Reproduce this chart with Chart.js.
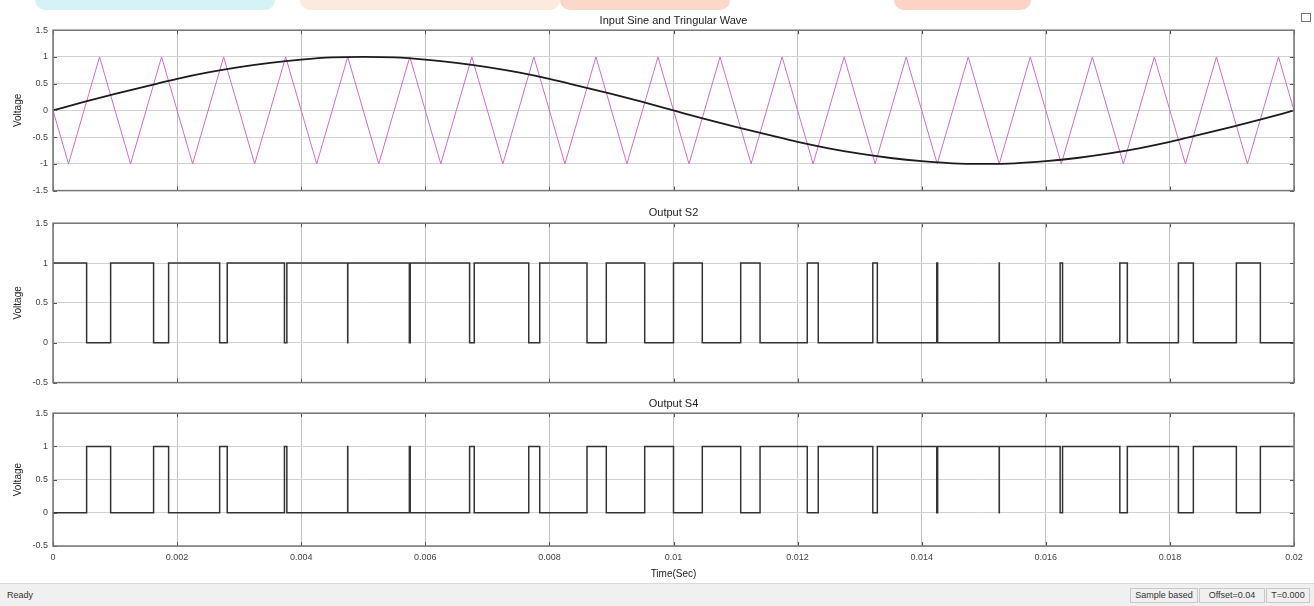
<!DOCTYPE html>
<html>
<head>
<meta charset="utf-8">
<script src="https://cdn.jsdelivr.net/npm/chart.js@4.4.0/dist/chart.umd.min.js"></script>
<style>
  body { margin: 0; width: 1314px; height: 606px; background: #fff; overflow: hidden; position: relative; font-family: "Liberation Sans", Arial, sans-serif; }
  .plot { position: absolute; left: 0; width: 1314px; }
  .deco { position: absolute; top: 0; height: 10px; border-radius: 0 0 10px 10px; }
  #status { position: absolute; left: 0; top: 583px; width: 1314px; height: 23px; background: #f0f0f0; border-top: 1px solid #dadada; font-size: 9px; color: #333; }
  #status span { position: absolute; top: 6px; }
  #status .cell { top: 4px; height: 13px; line-height: 13px; border: 1px solid #c9c9c9; text-align: center; }
  #icon { position: absolute; left: 1301px; top: 13px; width: 8px; height: 7px; border: 1px solid #777; background: linear-gradient(90deg, #fff 45%, #777 45%, #777 55%, #fff 55%); }
</style>
</head>
<body>
<div class="deco" style="left:35px;width:240px;background:#d5f3f7"></div>
<div class="deco" style="left:300px;width:260px;background:#fdeadf"></div>
<div class="deco" style="left:560px;width:170px;background:#fbd8c8"></div>
<div class="deco" style="left:894px;width:137px;background:#fcd3c5"></div>
<div id="icon"></div>

<div class="plot" style="top:0;height:201px"><canvas id="grafico-1"></canvas></div>
<div class="plot" style="top:197px;height:196px"><canvas id="grafico-2"></canvas></div>
<div class="plot" style="top:389px;height:194px"><canvas id="grafico-3"></canvas></div>

<div id="status">
  <span style="left:7px">Ready</span>
  <span class="cell" style="left:1130px;width:66px">Sample based</span>
  <span class="cell" style="left:1199px;width:64px">Offset=0.04</span>
  <span class="cell" style="left:1266px;width:42px">T=0.000</span>
</div>

<script>
// sine reference (time in s, volts)
let sineTime = [0, 0.0005, 0.001, 0.0015, 0.002, 0.0025, 0.003, 0.0035, 0.004, 0.0045,
  0.005, 0.0055, 0.006, 0.0065, 0.007, 0.0075, 0.008, 0.0085, 0.009, 0.0095,
  0.01, 0.0105, 0.011, 0.0115, 0.012, 0.0125, 0.013, 0.0135, 0.014, 0.0145,
  0.015, 0.0155, 0.016, 0.0165, 0.017, 0.0175, 0.018, 0.0185, 0.019, 0.0195, 0.02];
let sineVolt = [0, 0.16, 0.31, 0.45, 0.59, 0.71, 0.81, 0.89, 0.95, 0.99,
  1.00, 0.99, 0.95, 0.89, 0.81, 0.71, 0.59, 0.45, 0.31, 0.16,
  0, -0.16, -0.31, -0.45, -0.59, -0.71, -0.81, -0.89, -0.95, -0.99,
  -1.00, -0.99, -0.95, -0.89, -0.81, -0.71, -0.59, -0.45, -0.31, -0.16, 0];

// triangular carrier corners
let triTime = [0, 0.00025, 0.00075, 0.00125, 0.00175, 0.00225, 0.00275, 0.00325, 0.00375, 0.00425,
  0.00475, 0.00525, 0.00575, 0.00625, 0.00675, 0.00725, 0.00775, 0.00825, 0.00875, 0.00925,
  0.00975, 0.01025, 0.01075, 0.01125, 0.01175, 0.01225, 0.01275, 0.01325, 0.01375, 0.01425,
  0.01475, 0.01525, 0.01575, 0.01625, 0.01675, 0.01725, 0.01775, 0.01825, 0.01875, 0.01925,
  0.01975, 0.02];
let triVolt = [0, -1, 1, -1, 1, -1, 1, -1, 1, -1,
  1, -1, 1, -1, 1, -1, 1, -1, 1, -1,
  1, -1, 1, -1, 1, -1, 1, -1, 1, -1,
  1, -1, 1, -1, 1, -1, 1, -1, 1, -1,
  1, 0];

// switching instants (s) and the level after each one
let switchTime = [0, 0.000542, 0.000929, 0.001621, 0.001863, 0.002686, 0.002808, 0.00373, 0.003769, 0.004749,
  0.004751, 0.005743, 0.005757, 0.006714, 0.006789, 0.007667, 0.007844, 0.008606, 0.008917, 0.009536,
  0.01, 0.010464, 0.011083, 0.011395, 0.012156, 0.012333, 0.013212, 0.013285, 0.014243, 0.014257,
  0.015249, 0.015251, 0.016231, 0.01627, 0.017193, 0.017314, 0.018137, 0.018378, 0.019071, 0.019458,
  0.02];
let s2Level = [1, 0, 1, 0, 1, 0, 1, 0, 1, 0,
  1, 0, 1, 0, 1, 0, 1, 0, 1, 0,
  1, 0, 1, 0, 1, 0, 1, 0, 1, 0,
  1, 0, 1, 0, 1, 0, 1, 0, 1, 0,
  0];
let s4Level = [0, 1, 0, 1, 0, 1, 0, 1, 0, 1,
  0, 1, 0, 1, 0, 1, 0, 1, 0, 1,
  0, 1, 0, 1, 0, 1, 0, 1, 0, 1,
  0, 1, 0, 1, 0, 1, 0, 1, 0, 1,
  1];

let xTickValues = [0, 0.002, 0.004, 0.006, 0.008, 0.01, 0.012, 0.014, 0.016, 0.018, 0.02];
let xTickLabels = ['0', '0.002', '0.004', '0.006', '0.008', '0.01', '0.012', '0.014', '0.016', '0.018', '0.02'];
let yTickValuesIn = [-1.5, -1, -0.5, 0, 0.5, 1, 1.5];
let yTickLabelsIn = ['-1.5', '-1', '-0.5', '0', '0.5', '1', '1.5'];
let yTickValuesOut = [-0.5, 0, 0.5, 1, 1.5];
let yTickLabelsOut = ['-0.5', '0', '0.5', '1', '1.5'];

const FONT = '"Liberation Sans", Arial, sans-serif';

function pares(xs, ys) {
  return xs.map((x, i) => ({x: x, y: ys[i]}));
}

// box around the plot + MATLAB style inner ticks
const moldura = {
  id: 'moldura',
  afterDraw(chart) {
    const ctx = chart.ctx, a = chart.chartArea, sx = chart.scales.x, sy = chart.scales.y;
    ctx.save();
    ctx.strokeStyle = '#555';
    ctx.lineWidth = 1;
    ctx.beginPath();
    sx.ticks.forEach(t => {
      const p = Math.round(sx.getPixelForValue(t.value)) + 0.5;
      ctx.moveTo(p, a.top); ctx.lineTo(p, a.top + 4);
      ctx.moveTo(p, a.bottom); ctx.lineTo(p, a.bottom - 4);
    });
    sy.ticks.forEach(t => {
      const p = Math.round(sy.getPixelForValue(t.value)) + 0.5;
      ctx.moveTo(a.left, p); ctx.lineTo(a.left + 4, p);
      ctx.moveTo(a.right, p); ctx.lineTo(a.right - 4, p);
    });
    ctx.stroke();
    ctx.strokeStyle = '#767676';
    ctx.lineWidth = 1.5;
    ctx.strokeRect(a.left, a.top, a.right - a.left, a.bottom - a.top);
    ctx.restore();
  }
};

function criarGrafico(id, opts) {
  const ctx = document.getElementById(id).getContext('2d');
  return new Chart(ctx, {
    type: 'line',
    data: { datasets: opts.datasets },
    options: {
      responsive: true,
      maintainAspectRatio: false,
      animation: false,
      layout: { padding: { left: 0, right: 20, top: opts.padTop, bottom: opts.padBottom } },
      elements: { point: { radius: 0 } },
      plugins: {
        legend: { display: false },
        tooltip: { enabled: false },
        title: {
          display: true, text: opts.titulo, fullSize: false, color: '#222',
          font: { family: FONT, size: 11, weight: 'normal' },
          padding: { top: 0, bottom: opts.titlePad }
        }
      },
      scales: {
        x: {
          type: 'linear', min: 0, max: 0.02,
          afterBuildTicks: s => { s.ticks = xTickValues.map(v => ({value: v})); },
          afterFit: s => { s.height = opts.xHeight; },
          grid: { color: '#c2c2c2', lineWidth: 1, drawTicks: false },
          border: { display: false },
          ticks: {
            display: opts.xLabels, padding: 6, color: '#444', maxRotation: 0,
            font: { family: FONT, size: 9 },
            callback: (v, i) => xTickLabels[i]
          },
          title: {
            display: opts.xLabels, text: 'Time(Sec)', color: '#222',
            font: { family: FONT, size: 10 }, padding: { top: 0, bottom: 3 }
          }
        },
        y: {
          min: opts.yTicks[0], max: opts.yTicks[opts.yTicks.length - 1],
          afterBuildTicks: s => { s.ticks = opts.yTicks.map(v => ({value: v})); },
          afterFit: s => { s.width = 53; },
          grid: { color: '#d2d2d2', lineWidth: 1, drawTicks: false },
          border: { display: false },
          ticks: {
            padding: 5, color: '#444',
            font: { family: FONT, size: 9 },
            callback: (v, i) => opts.yLabels[i]
          },
          title: {
            display: true, text: 'Voltage', color: '#222',
            font: { family: FONT, size: 10 }, padding: { top: 12, bottom: 0 }
          }
        }
      }
    },
    plugins: [moldura]
  });
}

criarGrafico('grafico-1', {
  titulo: 'Input Sine and Tringular Wave',
  padTop: 14, titlePad: 3, padBottom: 7, xHeight: 0, xLabels: false,
  yTicks: yTickValuesIn, yLabels: yTickLabelsIn,
  datasets: [
    { label: 'Sine', data: pares(sineTime, sineVolt), borderColor: '#1c1c1c', borderWidth: 1.8,
      cubicInterpolationMode: 'monotone', fill: false },
    { label: 'Triangular', data: pares(triTime, triVolt), borderColor: 'rgb(206, 110, 206)', borderWidth: 1,
      tension: 0, fill: false }
  ]
});

criarGrafico('grafico-2', {
  titulo: 'Output S2',
  padTop: 9, titlePad: 4, padBottom: 7, xHeight: 0, xLabels: false,
  yTicks: yTickValuesOut, yLabels: yTickLabelsOut,
  datasets: [
    { label: 'S2', data: pares(switchTime, s2Level), borderColor: '#333', borderWidth: 1.5,
      stepped: true, fill: false }
  ]
});

criarGrafico('grafico-3', {
  titulo: 'Output S4',
  padTop: 8, titlePad: 3, padBottom: 0, xHeight: 37, xLabels: true,
  yTicks: yTickValuesOut, yLabels: yTickLabelsOut,
  datasets: [
    { label: 'S4', data: pares(switchTime, s4Level), borderColor: '#333', borderWidth: 1.5,
      stepped: true, fill: false }
  ]
});
</script>
</body>
</html>
